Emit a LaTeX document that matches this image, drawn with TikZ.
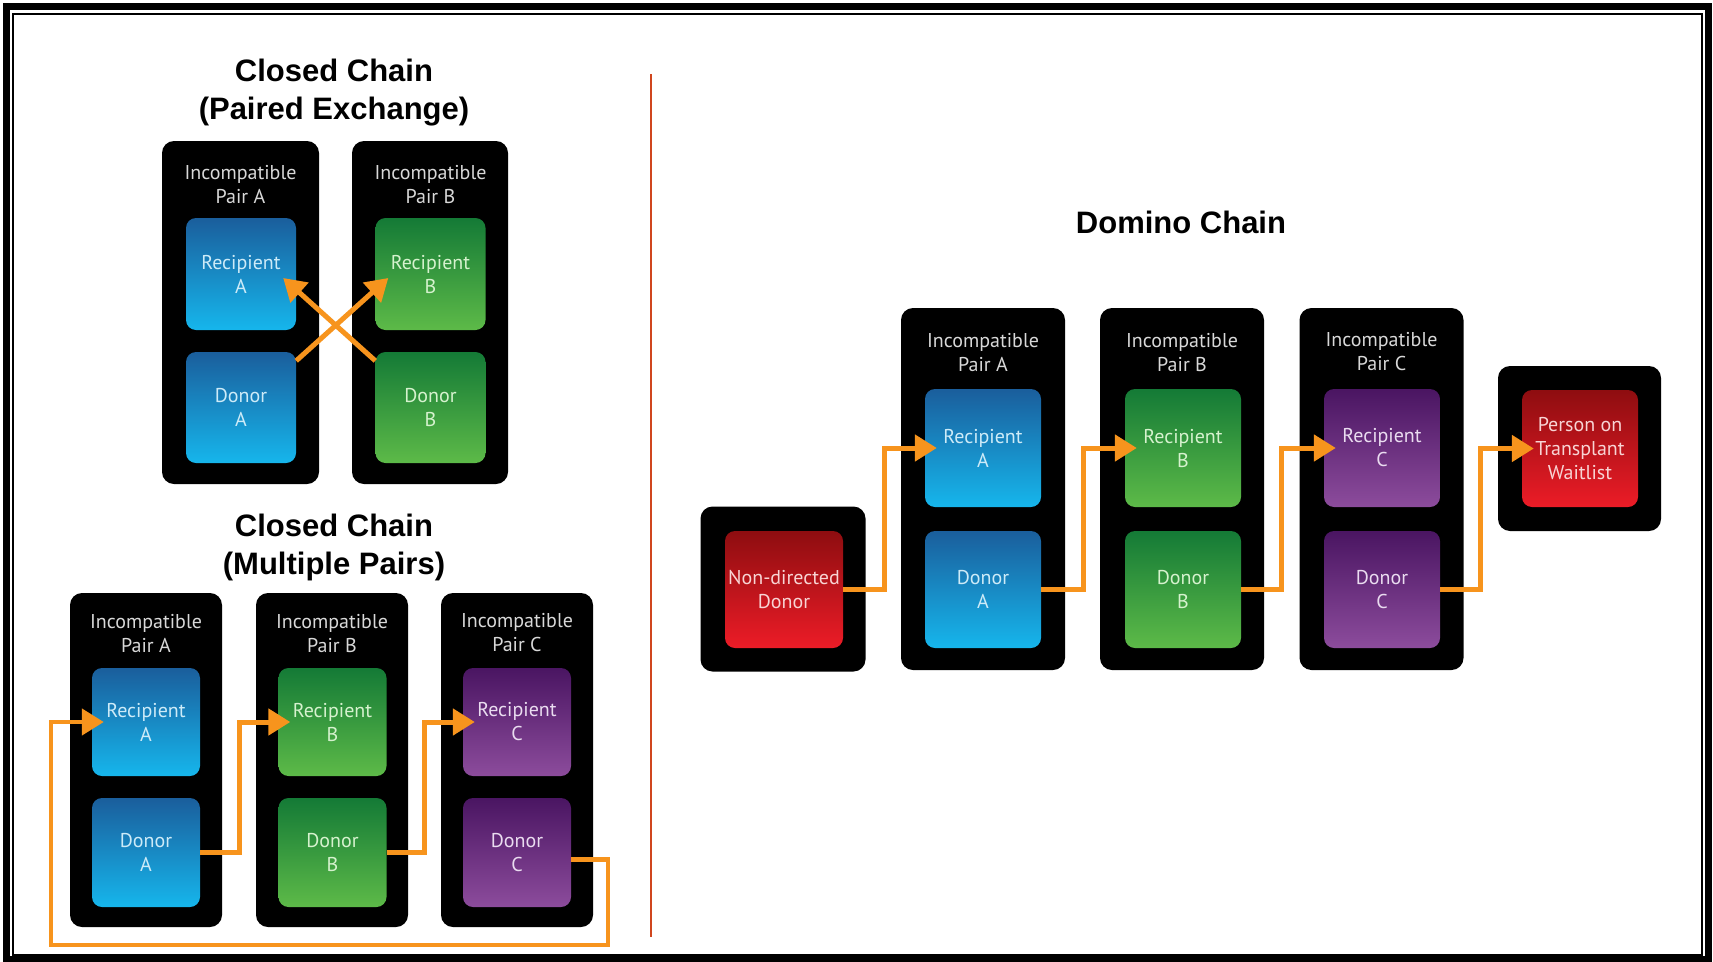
\documentclass[tikz,border=0pt]{standalone}
\usepackage{fontspec}
\setmainfont{Liberation Sans}
\newfontfamily\boxfont{PT Sans}
\usetikzlibrary{arrows.meta}
\definecolor{blueT}{HTML}{1A5E9C}
\definecolor{blueB}{HTML}{16B6EC}
\definecolor{greenT}{HTML}{147A36}
\definecolor{greenB}{HTML}{5DBA48}
\definecolor{purpT}{HTML}{4A1562}
\definecolor{purpB}{HTML}{8C4C9C}
\definecolor{redT}{HTML}{8E0D10}
\definecolor{redB}{HTML}{EC1C27}
\definecolor{blueTx}{HTML}{CDEBF8}
\definecolor{greenTx}{HTML}{D6F2CE}
\definecolor{purpTx}{HTML}{EADCF0}
\definecolor{redTx}{HTML}{F8D4D4}
\definecolor{hdrgray}{HTML}{D8D8D8}
\definecolor{arrowOr}{HTML}{F7941D}
\definecolor{divRed}{HTML}{D0461E}
\tikzset{
  blackbox/.style={fill=black, rounded corners=12pt, inner sep=0pt},
  colbox/.style={rounded corners=10pt, inner sep=0pt, align=center, font=\boxfont\fontsize{20}{24}\selectfont},
  bluebox/.style={colbox, top color=blueT, bottom color=blueB, text=blueTx},
  greenbox/.style={colbox, top color=greenT, bottom color=greenB, text=greenTx},
  purpbox/.style={colbox, top color=purpT, bottom color=purpB, text=purpTx},
  redbox/.style={colbox, top color=redT, bottom color=redB, text=redTx},
  hdr/.style={text=hdrgray, align=center, inner sep=0pt, font=\boxfont\fontsize{20}{24}\selectfont},
  ttl/.style={align=center, inner sep=0pt, font=\bfseries\fontsize{31}{38}\selectfont},
  arr/.style={draw=arrowOr, line width=5pt, line join=miter, -{Triangle[length=22pt,width=26pt]}},
}
\begin{document}
\begin{tikzpicture}[x=1pt,y=-1pt]
\useasboundingbox (0,0) rectangle (1713,961);
\fill[white] (0,0) rectangle (1713,961);
% frame
\draw[line width=7pt] (6.5,6) rectangle (1708.5,959);
\draw[line width=2pt] (13,13.5) rectangle (1702,955);
% divider
\draw[divRed, line width=2.2pt] (651,74) -- (651,937);

% ---------- Closed chain (paired exchange)
\node[ttl] (t1) at (334,93) {Closed Chain\\(Paired Exchange)};
\node[blackbox, minimum width=157pt, minimum height=343pt] (pA) at (240.5,312.5) {};
\node[blackbox, minimum width=156pt, minimum height=343pt] (pB) at (430,312.5) {};
\node[hdr] (hA) at (240.5,184) {Incompatible\\Pair A};
\node[hdr] (hB) at (430.5,184) {Incompatible\\Pair B};
\node[bluebox, minimum width=110pt, minimum height=112pt] (rA) at (241,274) {Recipient\\A};
\node[bluebox, minimum width=110pt, minimum height=111pt] (dA) at (241,407.5) {Donor\\A};
\node[greenbox, minimum width=110pt, minimum height=112pt] (rB) at (430.5,274) {Recipient\\B};
\node[greenbox, minimum width=110pt, minimum height=111pt] (dB) at (430.5,407.5) {Donor\\B};
\draw[arr] ([yshift=-9pt]dA.north east) -- ([xshift=13pt,yshift=-4pt]rB.west);
\draw[arr] ([yshift=-9pt]dB.north west) -- ([xshift=-13pt,yshift=-4pt]rA.east);

% ---------- Closed chain (multiple pairs)
\node[ttl] (t2) at (334,547.5) {Closed Chain\\(Multiple Pairs)};
\node[blackbox, minimum width=152pt, minimum height=334pt] (mA) at (146,760) {};
\node[blackbox, minimum width=152pt, minimum height=334pt] (mB) at (332,760) {};
\node[blackbox, minimum width=152pt, minimum height=334pt] (mC) at (517,760) {};
\node[hdr] (mhA) at (146,633) {Incompatible\\Pair A};
\node[hdr] (mhB) at (332,633) {Incompatible\\Pair B};
\node[hdr] (mhC) at (517,633) {Incompatible\\Pair C};
\node[bluebox, minimum width=108pt, minimum height=108pt] (mrA) at (146,722) {Recipient\\A};
\node[bluebox, minimum width=108pt, minimum height=109pt] (mdA) at (146,852.5) {Donor\\A};
\node[greenbox, minimum width=108pt, minimum height=108pt] (mrB) at (332.5,722) {Recipient\\B};
\node[greenbox, minimum width=108pt, minimum height=109pt] (mdB) at (332.5,852.5) {Donor\\B};
\node[purpbox, minimum width=108pt, minimum height=108pt] (mrC) at (517,722) {Recipient\\C};
\node[purpbox, minimum width=108pt, minimum height=109pt] (mdC) at (517,852.5) {Donor\\C};
\coordinate (lpR) at (608,945);
\coordinate (lpL) at (51,945);
\draw[arr, shorten >=-12pt] (mdA.east) -| (239,770) |- (mrB.west);
\draw[arr, shorten >=-12pt] (mdB.east) -| (424,770) |- (mrC.west);
\draw[arr, line width=4.5pt, shorten >=-12pt] ([yshift=-7pt]mdC.east) -| (lpR) -- (lpL) |- (mrA.west);

% ---------- Domino chain
\node[ttl] (t3) at (1181,222) {Domino Chain};
\node[blackbox, minimum width=165pt, minimum height=165pt] (ndb) at (783,589) {};
\node[redbox, minimum width=118pt, minimum height=117pt] (nd) at (784,589.5) {Non-directed\\Donor};
\node[blackbox, minimum width=164pt, minimum height=362pt] (dPA) at (983,489) {};
\node[blackbox, minimum width=164pt, minimum height=362pt] (dPB) at (1182,489) {};
\node[blackbox, minimum width=164pt, minimum height=362pt] (dPC) at (1381.5,489) {};
\node[hdr] (dhA) at (983,352) {Incompatible\\Pair A};
\node[hdr] (dhB) at (1182,352) {Incompatible\\Pair B};
\node[hdr] (dhC) at (1381.5,352) {Incompatible\\Pair C};
\node[bluebox, minimum width=116pt, minimum height=118pt] (drA) at (983,448) {Recipient\\A};
\node[bluebox, minimum width=116pt, minimum height=117pt] (ddA) at (983,589.5) {Donor\\A};
\node[greenbox, minimum width=116pt, minimum height=118pt] (drB) at (1183,448) {Recipient\\B};
\node[greenbox, minimum width=116pt, minimum height=117pt] (ddB) at (1183,589.5) {Donor\\B};
\node[purpbox, minimum width=116pt, minimum height=118pt] (drC) at (1382,448) {Recipient\\C};
\node[purpbox, minimum width=116pt, minimum height=117pt] (ddC) at (1382,589.5) {Donor\\C};
\node[blackbox, minimum width=163pt, minimum height=165pt] (wlb) at (1579.5,448.5) {};
\node[redbox, minimum width=116pt, minimum height=117pt] (wl) at (1580,448.5) {Person on\\Transplant\\Waitlist};
\draw[arr, shorten >=-12pt] (nd.east) -| (884,520) |- (drA.west);
\draw[arr, shorten >=-12pt] (ddA.east) -| (1083,520) |- (drB.west);
\draw[arr, shorten >=-12pt] (ddB.east) -| (1281,520) |- (drC.west);
\draw[arr, shorten >=-12pt] (ddC.east) -| (1480,520) |- (wl.west);
\end{tikzpicture}
\end{document}
